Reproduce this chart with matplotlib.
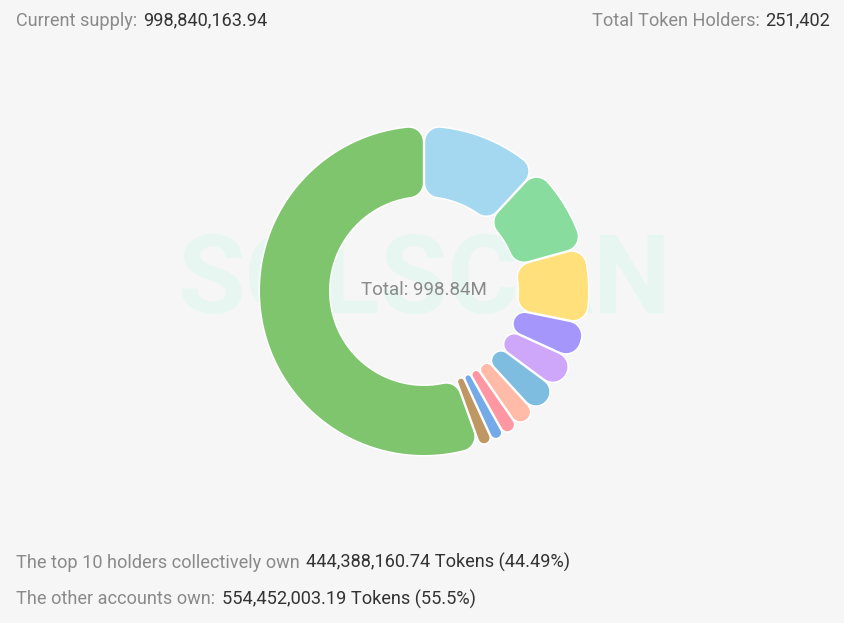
import matplotlib
matplotlib.use('Agg')
import matplotlib.pyplot as plt
import numpy as np
from matplotlib.patches import Polygon

plt.rcParams['font.family'] = ['Roboto', 'DejaVu Sans']

# token amounts in millions, top 10 holders then everybody else
holders = ['#1', '#2', '#3', '#4', '#5', '#6', '#7', '#8', '#9', '#10', 'Other accounts']
tokens = [118.8, 88.0, 75.0, 36.0, 33.3, 30.5, 21.5, 15.4, 12.6, 13.3, 554.45]
colors = ['#A4D8F0', '#88DD9E', '#FFE07B', '#A496FB', '#CFA7FA', '#7FBDE0',
          '#FFBBA8', '#FF97A2', '#74AAE8', '#BF9763', '#7FC56D']

W, H = 844, 623
BG = '#F6F6F6'
GRAY = '#8A8A8A'
DARK = '#333333'
CENTER = (424, H - 291)
R_OUT = 164
R_IN = 95
GAP = 1.2
CORNER = 14


def pol(r, deg):
    return np.column_stack([r * np.cos(np.radians(deg)), r * np.sin(np.radians(deg))])


def corner(d, a, c, start, end):
    cx, cy = pol(d, a)[0]
    t = np.radians(np.linspace(start, end, 12))
    return np.column_stack([cx + c * np.cos(t), cy + c * np.sin(t)])


def rounded(theta1, theta2, ro, ri):
    # wedge outline with rounded corners, in coordinates around the centre
    s = np.sin(np.radians(theta2 - theta1) / 2)
    co = min(CORNER, 0.98 * (ro * s - GAP) / (1 + s))
    ci = min(CORNER, 0.98 * (ri * s - GAP) / (1 - s))
    da = np.degrees(np.arcsin((co + GAP) / (ro - co)))
    db = np.degrees(np.arcsin((ci + GAP) / (ri + ci)))
    return np.vstack([
        pol(ro, np.linspace(theta1 + da, theta2 - da, 80)),
        corner(ro - co, theta2 - da, co, theta2 - da, theta2 + 90),
        corner(ri + ci, theta2 - db, ci, theta2 + 90, theta2 - db + 180),
        pol(ri, np.linspace(theta2 - db, theta1 + db, 60)),
        corner(ri + ci, theta1 + db, ci, theta1 + db + 180, theta1 + 270),
        corner(ro - co, theta1 + da, co, theta1 - 90, theta1 + da),
    ])


fig = plt.figure(figsize=(W / 100, H / 100), dpi=100, facecolor=BG)
ax = fig.add_axes([0, 0, 1, 1])
ax.set_facecolor(BG)

ax.text(424, H - 283, 'SOLSCAN', fontsize=79, fontweight='bold', color='#E8F6F1',
        ha='center', va='center', zorder=0)

wedges, _ = ax.pie(tokens, colors=colors, startangle=90, counterclock=False,
                   radius=R_OUT, center=CENTER)
for w, col in zip(wedges, colors):
    pts = rounded(w.theta1, w.theta2, R_OUT, R_IN) + np.array(CENTER)
    w.remove()
    ax.add_patch(Polygon(pts, closed=True, fc='white', ec='white', lw=2.2, joinstyle='round', zorder=2))
    ax.add_patch(Polygon(pts, closed=True, fc=col, ec='none', zorder=3))

ax.set_xlim(0, W)
ax.set_ylim(0, H)
ax.set_aspect('auto')
ax.axis('off')

FS = 13.05
ax.text(424, H - 290, 'Total: 998.84M', fontsize=13.5, color=GRAY, ha='center', va='center', zorder=5)


def line(x, y, txt, col):
    ax.text(x, H - y, txt, fontsize=FS, color=col, ha='left', va='center', zorder=5)


line(16, 20.5, 'Current supply:', GRAY)
line(143, 20.5, '998,840,163.94', DARK)
line(592, 20.5, 'Total Token Holders:', GRAY)
line(765, 20.5, '251,402', DARK)
line(16, 562.5, 'The top 10 holders collectively own', GRAY)
line(306, 562.5, '444,388,160.74 Tokens (44.49%)', DARK)
line(16, 599.5, 'The other accounts own:', GRAY)
line(222, 599.5, '554,452,003.19 Tokens (55.5%)', DARK)

fig.savefig('out.png', dpi=100, facecolor=BG)
